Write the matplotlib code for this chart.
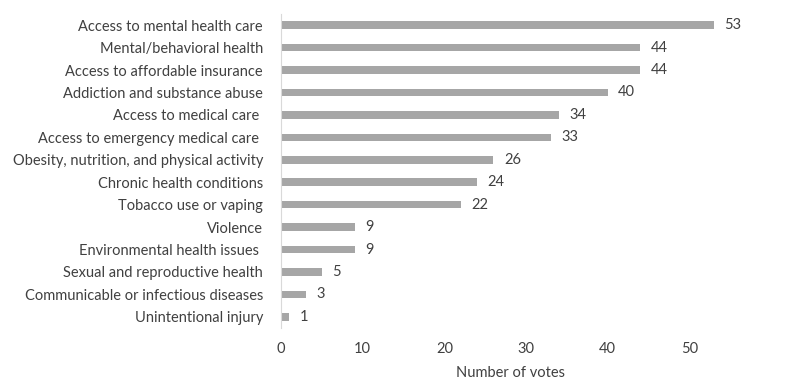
import matplotlib
matplotlib.use('Agg')
from matplotlib import pyplot as plt

# Data (top to bottom)
categories = ['Access to mental health care',
              'Mental/behavioral health',
              'Access to affordable insurance',
              'Addiction and substance abuse',
              'Access to medical care ',
              'Access to emergency medical care ',
              'Obesity, nutrition, and physical activity',
              'Chronic health conditions',
              'Tobacco use or vaping',
              'Violence',
              'Environmental health issues ',
              'Sexual and reproductive health',
              'Communicable or infectious diseases',
              'Unintentional injury']
votes = [53, 44, 44, 40, 34, 33, 26, 24, 22, 9, 9, 5, 3, 1]
xticks = [0, 10, 20, 30, 40, 50]

textColor = '#404040'
plt.rcParams['font.family'] = ['Lato', 'DejaVu Sans']

fig = plt.figure(figsize=(7.96, 3.87), dpi=100)
ax = fig.add_axes([281 / 796, 59 / 387, 490 / 796, 314 / 387])

ypos = list(range(len(categories)))
ax.barh(ypos, votes, height=0.34, color='#a6a6a6')
for y, v in zip(ypos, votes):
    ax.text(v + 1.3, y, str(v), va='center', ha='left', fontsize=10.5, color=textColor)

ax.set_yticks(ypos)
ax.set_yticklabels(categories, fontsize=10.5, color=textColor)
ax.set_ylim(len(categories) - 0.5, -0.5)
ax.set_xlim(0, 60)
ax.set_xticks(xticks)
ax.set_xticklabels([str(t) for t in xticks], fontsize=10.5, color=textColor)
ax.tick_params(axis='both', length=0)
ax.tick_params(axis='y', pad=13)
ax.tick_params(axis='x', pad=10)
ax.set_xlabel('Number of votes', fontsize=10.5, color=textColor)
ax.xaxis.set_label_coords(230 / 490, -0.12)

for side in ['top', 'right', 'bottom']:
    ax.spines[side].set_visible(False)
ax.spines['left'].set_color('#d9d9d9')
ax.spines['left'].set_linewidth(0.8)

fig.savefig('out.png', dpi=100)
